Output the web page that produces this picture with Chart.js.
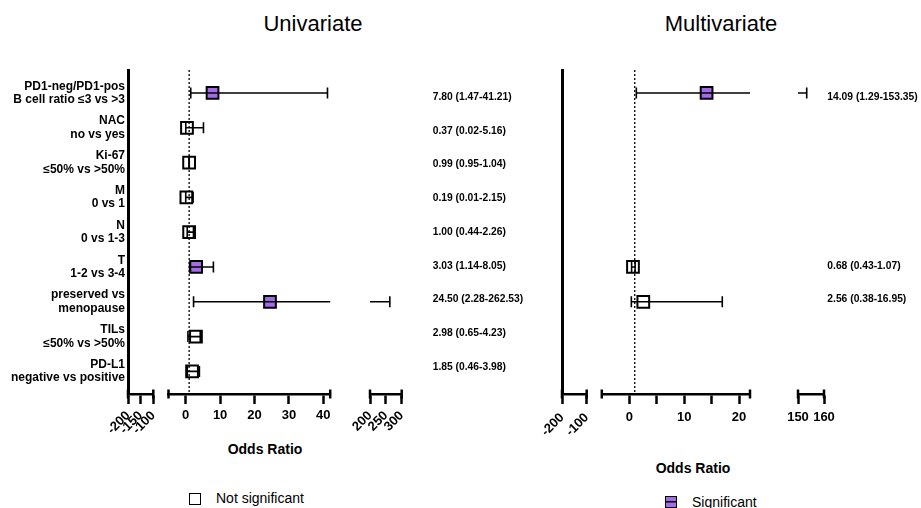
<!DOCTYPE html>
<html>
<head>
<meta charset="utf-8">
<script src="https://cdn.jsdelivr.net/npm/chart.js@4.4.1/dist/chart.umd.min.js"></script>
<style>
  body { margin: 0; background: #fff; }
  #page { position: relative; width: 921px; height: 508px; overflow: hidden; background: #fff;
          font-family: 'Liberation Sans', Arial, sans-serif; color: #000; }
  #page canvas { position: absolute; top: 0; }
  .txt { position: absolute; white-space: nowrap; line-height: 1; transform: translate(-50%, -50%); }
  .title { font-size: 22px; }
  .axis-title { font-size: 14px; font-weight: bold; }
  .legend { position: absolute; font-size: 14px; line-height: 1; white-space: nowrap; transform: translateY(-50%); }
  .key { position: absolute; width: 10px; height: 10px; border: 1.5px solid #000; }
  .key.sig { background: linear-gradient(#000, #000) center / 100% 1.5px no-repeat, #a36be6; }
</style>
</head>
<body>
<div id="page">
  <div class="txt title" style="left:313px; top:24px;">Univariate</div>
  <div class="txt title" style="left:721px; top:24px;">Multivariate</div>
  <div class="txt axis-title" style="left:265px; top:449px;">Odds Ratio</div>
  <div class="txt axis-title" style="left:693px; top:468px;">Odds Ratio</div>
  <div class="key" style="left:189px; top:493px;"></div>
  <div class="legend" style="left:216px; top:498px;">Not significant</div>
  <div class="key sig" style="left:665px; top:496px;"></div>
  <div class="legend" style="left:692px; top:502px;">Significant</div>
</div>
<script>
const categories = [
  ['PD1-neg/PD1-pos', 'B cell ratio ≤3 vs >3'],
  ['NAC', 'no vs yes'],
  ['Ki-67', '≤50% vs >50%'],
  ['M', '0 vs 1'],
  ['N', '0 vs 1-3'],
  ['T', '1-2 vs 3-4'],
  ['preserved vs', 'menopause'],
  ['TILs', '≤50% vs >50%'],
  ['PD-L1', 'negative vs positive']
];
const rows = [1, 2, 3, 4, 5, 6, 7, 8, 9];

// univariate odds ratios with 95% CI
const uniOR   = [7.80, 0.37, 0.99, 0.19, 1.00, 3.03, 24.50, 2.98, 1.85];
const uniLow  = [1.47, 0.02, 0.95, 0.01, 0.44, 1.14, 2.28, 0.65, 0.46];
const uniHigh = [41.21, 5.16, 1.04, 2.15, 2.26, 8.05, 262.53, 4.23, 3.98];
const uniSig  = [true, false, false, false, false, true, true, false, false];

// multivariate, only three variables kept in the model
const multiOR   = [14.09, null, null, null, null, 0.68, 2.56, null, null];
const multiLow  = [1.29, null, null, null, null, 0.43, 0.38, null, null];
const multiHigh = [153.35, null, null, null, null, 1.07, 16.95, null, null];
const multiSig  = [true, false, false, false, false, false, false, false, false];

// broken x axes: value range and ticks of each piece
const uniRanges = [[-200, -100], [-5, 42], [200, 300]];
const uniTicks = [[-200, -150, -100], [0, 10, 20, 30, 40], [200, 250, 300]];
const uniTickLabels = [['-200', '-150', '-100'], ['0', '10', '20', '30', '40'], ['200', '250', '300']];
const multiRanges = [[-200, -100], [-5, 22], [150, 160]];
const multiTicks = [[-200, -100], [0, 5, 10, 15, 20], [150, 160]];
const multiTickLabels = [['-200', '-100'], ['0', '', '10', '', '20'], ['150', '160']];

const PURPLE = '#a36be6';
const H = 440, TOP = 70, AXIS_H = 46;
const Y_MIN = 0.34, Y_MAX = 9.65;

Chart.defaults.font.family = "'Liberation Sans', Arial, sans-serif";
Chart.defaults.color = '#000';

const fmt = (o, l, h) => o.toFixed(2) + ' (' + l.toFixed(2) + '-' + h.toFixed(2) + ')';

const panels = [
  { or: uniOR, low: uniLow, high: uniHigh, sig: uniSig,
    ranges: uniRanges, ticks: uniTicks, tickLabels: uniTickLabels,
    px: [[128, 153.3], [168.5, 330.2], [370, 401.7]], rotate: [45, 0, 45],
    showCats: true, textPad: 31, right: 550, tickPad: 4 },
  { or: multiOR, low: multiLow, high: multiHigh, sig: multiSig,
    ranges: multiRanges, ticks: multiTicks, tickLabels: multiTickLabels,
    px: [[562, 586.7], [601.8, 750], [798, 824]], rotate: [45, 0, 0],
    showCats: false, textPad: 3.3, right: 921, tickPad: 6 }
];

// short bars at both ends of each axis piece
const segmentEnds = {
  id: 'segmentEnds',
  afterDraw(chart) {
    const { ctx, chartArea: a } = chart;
    ctx.save();
    ctx.strokeStyle = '#000';
    ctx.lineWidth = 2.5;
    [a.left, a.right].forEach(x => {
      ctx.beginPath();
      ctx.moveTo(x, a.bottom - 4.5);
      ctx.lineTo(x, a.bottom + 4.5);
      ctx.stroke();
    });
    ctx.restore();
  }
};

function buildChart(p, k) {
  const [px0, px1] = p.px[k];
  const first = k === 0, last = k === p.px.length - 1;
  const cLeft = first ? (p.showCats ? 0 : Math.floor(px0) - 30) : Math.floor(px0) - 32;
  const cRight = last ? p.right : Math.ceil(px1) + 12;
  const leftSpace = px0 - cLeft, rightSpace = cRight - px1;

  const canvas = document.createElement('canvas');
  canvas.width = cRight - cLeft;
  canvas.height = H;
  canvas.style.left = cLeft + 'px';
  document.getElementById('page').appendChild(canvas);

  const idx = rows.map(r => r - 1).filter(i => p.or[i] != null);
  const datasets = [];
  datasets.push({
    data: [{ x: 1, y: Y_MIN }, { x: 1, y: Y_MAX }],
    showLine: true, borderColor: '#000', borderWidth: 1.3, borderDash: [2, 2],
    pointRadius: 0, order: 5
  });
  idx.forEach(i => datasets.push({
    data: [{ x: p.low[i], y: rows[i] }, { x: p.high[i], y: rows[i] }],
    showLine: true, borderColor: '#000', borderWidth: 1.6, pointRadius: 0, order: 2
  }));
  datasets.push({
    data: idx.flatMap(i => [{ x: p.low[i], y: rows[i] }, { x: p.high[i], y: rows[i] }]),
    pointStyle: 'line', pointRotation: 90, pointRadius: 5.5,
    pointBorderColor: '#000', pointBorderWidth: 1.6, order: 1
  });
  datasets.push({
    data: idx.map(i => ({ x: p.or[i], y: rows[i] })),
    pointStyle: 'rect', pointRadius: 8.3, pointBorderWidth: 2, pointBorderColor: '#000',
    pointBackgroundColor: idx.map(i => p.sig[i] ? PURPLE : 'rgba(0,0,0,0)'), order: 3
  });

  new Chart(canvas, {
    type: 'scatter',
    data: { datasets },
    plugins: [segmentEnds],
    options: {
      responsive: false,
      animation: false,
      events: [],
      layout: { padding: { top: TOP, bottom: 0, left: 0, right: 0 } },
      plugins: { legend: { display: false }, tooltip: { enabled: false } },
      scales: {
        x: {
          type: 'linear', min: p.ranges[k][0], max: p.ranges[k][1],
          afterBuildTicks: s => { s.ticks = p.ticks[k].map(v => ({ value: v })); },
          afterFit: s => { s.height = AXIS_H; s.paddingLeft = 0; s.paddingRight = 0; },
          ticks: {
            autoSkip: false, minRotation: p.rotate[k], maxRotation: p.rotate[k], padding: p.tickPad,
            font: { size: 13, weight: 'bold' }, color: '#000',
            callback: (v, i) => p.tickLabels[k][i]
          },
          grid: { display: true, drawOnChartArea: false, drawTicks: true, tickLength: 10, tickWidth: 2.5, tickColor: '#000' },
          border: { display: true, width: 2.5, color: '#000' }
        },
        // left axis: category labels on the first piece, otherwise only reserves room
        y: {
          type: 'linear', min: Y_MIN, max: Y_MAX, reverse: true, position: 'left',
          afterBuildTicks: s => { s.ticks = rows.map(v => ({ value: v })); },
          afterFit: s => { s.width = leftSpace; s.paddingTop = 0; s.paddingBottom = 0; },
          grid: { display: false, drawTicks: false },
          border: { display: first, width: 3, color: '#000' },
          ticks: {
            display: first && p.showCats, autoSkip: false, padding: 3, color: '#000',
            font: { size: 12, weight: 'bold', lineHeight: 1.12 },
            callback: v => categories[v - 1]
          }
        },
        // right axis: OR (95% CI) text on the last piece
        y2: {
          type: 'linear', min: 0.2, max: 9.8, reverse: true, position: 'right',
          afterBuildTicks: s => { s.ticks = rows.filter(r => p.or[r - 1] != null).map(v => ({ value: v })); },
          afterFit: s => { s.width = rightSpace; s.paddingTop = 0; s.paddingBottom = 0; },
          grid: { display: false, drawTicks: false },
          border: { display: false },
          ticks: {
            display: last, autoSkip: false, padding: p.textPad, color: '#000',
            font: { size: 10.3, weight: 'bold' },
            callback: v => fmt(p.or[v - 1], p.low[v - 1], p.high[v - 1])
          }
        }
      }
    }
  });
}

panels.forEach(p => p.px.forEach((_, k) => buildChart(p, k)));
</script>
</body>
</html>
